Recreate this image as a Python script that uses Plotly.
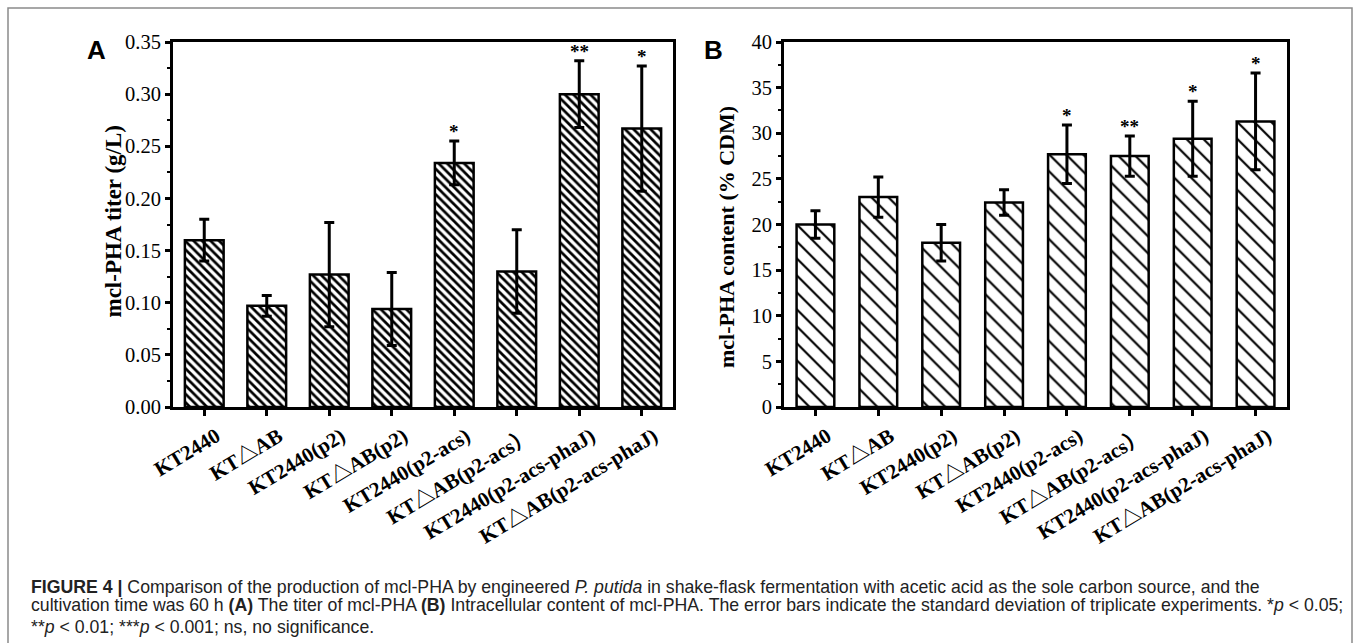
import plotly.graph_objects as go

strains = ["KT2440", "KT△AB", "KT2440(p2)", "KT△AB(p2)", "KT2440(p2-acs)",
           "KT△AB(p2-acs）", "KT2440(p2-acs-phaJ)", "KT△AB(p2-acs-phaJ)"]

titer = [0.160, 0.097, 0.127, 0.094, 0.234, 0.130, 0.300, 0.267]
titer_err = [0.020, 0.010, 0.050, 0.035, 0.021, 0.040, 0.032, 0.060]
titer_sig = ["", "", "", "", "*", "", "**", "*"]

content = [20.0, 23.0, 18.0, 22.4, 27.7, 27.5, 29.4, 31.3]
content_err = [1.5, 2.2, 2.0, 1.4, 3.2, 2.2, 4.1, 5.3]
content_sig = ["", "", "", "", "*", "**", "*", "*"]

yticks_a = [0.00, 0.05, 0.10, 0.15, 0.20, 0.25, 0.30, 0.35]
yticks_b = [0, 5, 10, 15, 20, 25, 30, 35, 40]

W, H = 1355, 643
SERIF = "Liberation Serif, Noto Sans CJK SC, Times New Roman, serif"
SANS = "Liberation Sans, Arial, Helvetica, sans-serif"

def px_x(p):
    return p / W

def px_y(p):
    return 1 - p / H

xs = list(range(len(strains)))

fig = go.Figure()

fig.add_trace(go.Bar(
    x=xs, y=titer, xaxis="x", yaxis="y", width=0.62,
    marker=dict(color="white", line=dict(color="black", width=2.5),
                pattern=dict(shape="\\", size=6, solidity=0.45,
                             fgcolor="black", bgcolor="white", fillmode="replace")),
    error_y=dict(type="data", array=titer_err, color="black", thickness=3, width=5),
    showlegend=False,
))

fig.add_trace(go.Bar(
    x=xs, y=content, xaxis="x2", yaxis="y2", width=0.6,
    marker=dict(color="white", line=dict(color="black", width=2.5),
                pattern=dict(shape="\\", size=12, solidity=0.18,
                             fgcolor="black", bgcolor="white", fillmode="replace")),
    error_y=dict(type="data", array=content_err, color="black", thickness=3, width=5),
    showlegend=False,
))

ticktext = ["<b>%s</b>" % s for s in strains]

common_x = dict(
    range=[-0.5, 7.5], tickmode="array", tickvals=xs, ticktext=ticktext,
    tickangle=-31, tickfont=dict(family=SERIF, size=21, color="black"),
    ticklabelshift=12,
    showline=True, linecolor="black", linewidth=3, mirror=True,
    ticks="outside", ticklen=6, tickwidth=2.5, tickcolor="black",
    showgrid=False, zeroline=False, automargin=False, fixedrange=True,
)
common_y = dict(
    showline=True, linecolor="black", linewidth=3, mirror=True,
    ticks="outside", ticklen=5, tickwidth=2.5, tickcolor="black",
    tickfont=dict(family=SERIF, size=20.5, color="black"),
    showgrid=False, zeroline=False, automargin=False, fixedrange=True,
    domain=[px_y(407), px_y(42)],
)

fig.update_layout(
    width=W, height=H, margin=dict(l=0, r=0, t=0, b=0),
    paper_bgcolor="white", plot_bgcolor="white",
    template=None,
    xaxis=dict(domain=[px_x(173), px_x(673)], anchor="y", **common_x),
    yaxis=dict(range=[0, 0.35], anchor="x", tickvals=yticks_a,
               ticktext=["%.2f" % v for v in yticks_a],
               minor=dict(ticks="outside", ticklen=3, tickwidth=2, tickcolor="black", dtick=0.025),
               **common_y),
    xaxis2=dict(domain=[px_x(784), px_x(1287)], anchor="y2", **common_x),
    yaxis2=dict(range=[0, 40], anchor="x2", tickvals=yticks_b,
                ticktext=[str(v) for v in yticks_b],
                minor=dict(ticks="outside", ticklen=3, tickwidth=2, tickcolor="black", dtick=2.5),
                **common_y),
)

annotations = []
for i, (v, e, s) in enumerate(zip(titer, titer_err, titer_sig)):
    if s:
        annotations.append(dict(x=i, y=v + e, xref="x", yref="y", text="<b>%s</b>" % s,
                                showarrow=False, yanchor="bottom", yshift=-3,
                                font=dict(family=SERIF, size=19, color="black")))
for i, (v, e, s) in enumerate(zip(content, content_err, content_sig)):
    if s:
        annotations.append(dict(x=i, y=v + e, xref="x2", yref="y2", text="<b>%s</b>" % s,
                                showarrow=False, yanchor="bottom", yshift=-3,
                                font=dict(family=SERIF, size=19, color="black")))

# panel letters
annotations.append(dict(x=px_x(85), y=px_y(33), xref="paper", yref="paper", text="<b>A</b>",
                        showarrow=False, font=dict(family=SANS, size=26, color="black")))
annotations.append(dict(x=px_x(713), y=px_y(33), xref="paper", yref="paper", text="<b>B</b>",
                        showarrow=False, font=dict(family=SANS, size=26, color="black")))

# y titles
annotations.append(dict(x=px_x(98), y=px_y(222), xref="paper", yref="paper",
                        text="<b>mcl-PHA titer (g/L)</b>", textangle=-90, showarrow=False,
                        font=dict(family=SERIF, size=23, color="black")))
annotations.append(dict(x=px_x(726), y=px_y(237), xref="paper", yref="paper",
                        text="<b>mcl-PHA content (% CDM)</b>", textangle=-90, showarrow=False,
                        font=dict(family=SERIF, size=22, color="black")))

# caption
cap_lines = [
    "<b>FIGURE 4 |</b> Comparison of the production of mcl-PHA by engineered <i>P. putida</i> in shake-flask fermentation with acetic acid as the sole carbon source, and the",
    "cultivation time was 60 h <b>(A)</b> The titer of mcl-PHA <b>(B)</b> Intracellular content of mcl-PHA. The error bars indicate the standard deviation of triplicate experiments. *<i>p</i> &lt; 0.05;",
    "**<i>p</i> &lt; 0.01; ***<i>p</i> &lt; 0.001; ns, no significance.",
]
cap_y = [587, 605, 627]
for txt, yy in zip(cap_lines, cap_y):
    annotations.append(dict(x=px_x(29), y=px_y(yy), xref="paper", yref="paper", text=txt,
                            showarrow=False, xanchor="left", yanchor="middle", align="left",
                            font=dict(family=SANS, size=17.7, color="#222222")))

fig.update_layout(annotations=annotations)

# frame
fig.add_shape(type="rect", xref="paper", yref="paper",
              x0=px_x(8), x1=px_x(1352), y0=px_y(660), y1=px_y(8),
              line=dict(color="#8a8a8a", width=1.5), fillcolor="rgba(0,0,0,0)", layer="below")

fig.write_html("out.html")
